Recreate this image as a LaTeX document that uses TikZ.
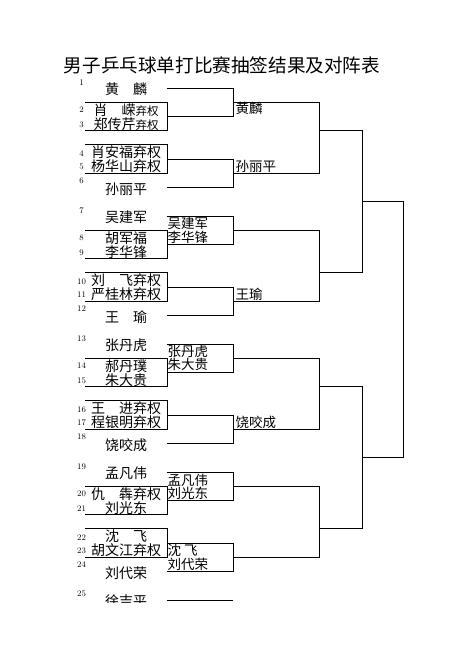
\documentclass[tikz,border=0pt]{standalone}
\usepackage{fontspec}
\newfontfamily\cjk{Noto Sans CJK SC}
\def\rr{14.22}
\newcommand\qq{{\fontsize{11.5}{12}\selectfont 弃权}}
\newcommand\drawpair[8]{%
  \pgfmathsetmacro\Bq{#1}%
  \pgfmathtruncatemacro\na{#8}%
  \pgfmathtruncatemacro\nb{#8+1}%
  \pgfmathtruncatemacro\nc{#8+2}%
  \pgfmathtruncatemacro\nd{#8+3}%
  \pgfmathtruncatemacro\ne{#8+4}%
  \pgfmathtruncatemacro\nf{#8+5}%
  % first-round brackets
  \draw[br] (167,\Bq) -- (233,\Bq) -- (233,{\Bq+2*\rr}) -- (167,{\Bq+2*\rr});
  \draw[br] (85,{\Bq+\rr}) -- (167,{\Bq+\rr}) -- (167,{\Bq+3*\rr}) -- (85,{\Bq+3*\rr});
  \draw[br] (85,{\Bq+4*\rr}) -- (167,{\Bq+4*\rr}) -- (167,{\Bq+6*\rr}) -- (85,{\Bq+6*\rr});
  \draw[br] (167,{\Bq+5*\rr}) -- (233,{\Bq+5*\rr}) -- (233,{\Bq+7*\rr}) -- (167,{\Bq+7*\rr});
  % second-round bracket
  \draw[br] (233,{\Bq+\rr}) -- (319,{\Bq+\rr}) -- (319,{\Bq+6*\rr}) -- (233,{\Bq+6*\rr});
  % names
  \node[nm] (n\na) at (126,{\Bq+1}) {#2};
  \node[nm] (n\nb) at (126,{\Bq+22.5}) {#3};
  \node[nm] (n\nc) at (126,{\Bq+36}) {#4};
  \node[nm] (n\nd) at (126,{\Bq+64}) {#5};
  \node[nm] (n\ne) at (126,{\Bq+78}) {#6};
  \node[nm] (n\nf) at (126,{\Bq+101}) {#7};
  % numbers
  \node[num] (c\na) at (81.5,{\Bq-5}) {\na};
  \node[num] (c\nb) at (81.5,{\Bq+22}) {\nb};
  \node[num] (c\nc) at (81.5,{\Bq+37}) {\nc};
  \node[num] (c\nd) at (81.5,{\Bq+65.5}) {\nd};
  \node[num] (c\ne) at (81.5,{\Bq+79}) {\ne};
  \node[num] (c\nf) at (81.5,{\Bq+93}) {\nf};
}
\begin{document}
\begin{tikzpicture}[x=1pt,y=-1pt,
  br/.style={line width=0.95pt, line join=miter},
  nm/.style={font=\cjk\fontsize{14}{14}\selectfont, inner sep=0pt},
  num/.style={font=\fontsize{8.5}{9}\selectfont, inner sep=0pt},
  lab/.style={font=\cjk\fontsize{13.5}{14}\selectfont, inner sep=0pt, anchor=west}]
\useasboundingbox (0,0) rectangle (474,669);
\fill[white] (0,0) rectangle (474,669);
\node[font=\cjk\fontsize{18.6}{19}\selectfont, inner sep=0pt] (title) at (222,65) {男子乒乓球单打比赛抽签结果及对阵表};

\drawpair{88}{黄　麟}{肖　嵘\qq}{郑传芹\qq}{肖安福弃权}{杨华山弃权}{孙丽平}{1}
\drawpair{216}{吴建军}{胡军福}{李华锋}{刘　飞弃权}{严桂林弃权}{王　瑜}{7}
\drawpair{344}{张丹虎}{郝丹璞}{朱大贵}{王　进弃权}{程银明弃权}{饶咬成}{13}
\drawpair{472}{孟凡伟}{仇　犇弃权}{刘光东}{沈　飞}{胡文江弃权}{刘代荣}{19}

% round-1 winner labels
\node[lab] (w1) at (235.5,{88+\rr+6.3}) {黄麟};
\node[lab] (w2) at (235.5,{88+6*\rr-7.3}) {孙丽平};
\node[lab] (w3a) at (167.5,{216+7}) {吴建军};
\node[lab] (w3b) at (167.5,{216+21.5}) {李华锋};
\node[lab] (w4) at (235.5,{216+6*\rr-7}) {王瑜};
\node[lab] (w5a) at (167.5,{344+7}) {张丹虎};
\node[lab] (w5b) at (167.5,{344+20.5}) {朱大贵};
\node[lab] (w6) at (235.5,{344+6*\rr-7}) {饶咬成};
\node[lab] (w7a) at (167.5,{472+8}) {孟凡伟};
\node[lab] (w7b) at (167.5,{472+21}) {刘光东};
\node[lab] (w8a) at (167.5,{472+5*\rr+7}) {沈 飞};
\node[lab] (w8b) at (167.5,{472+5*\rr+21}) {刘代荣};

% round 3
\draw[br] (319,{88+3*\rr}) -- (362,{88+3*\rr}) -- (362,{216+4*\rr}) -- (319,{216+4*\rr});
\draw[br] (319,{344+3*\rr}) -- (362,{344+3*\rr}) -- (362,{472+4*\rr}) -- (319,{472+4*\rr});
% final
\draw[br] (362,{88+8*\rr}) -- (403,{88+8*\rr}) -- (403,{344+8*\rr}) -- (362,{344+8*\rr});

% row 25
\draw[br] (167,600) -- (233,600);
\node[num] (c25) at (81.5,594) {25};
\begin{scope}
  \clip (0,0) rectangle (474,602.5);
  \node[nm] (n25) at (126,601) {徐吉平};
\end{scope}
\end{tikzpicture}
\end{document}
